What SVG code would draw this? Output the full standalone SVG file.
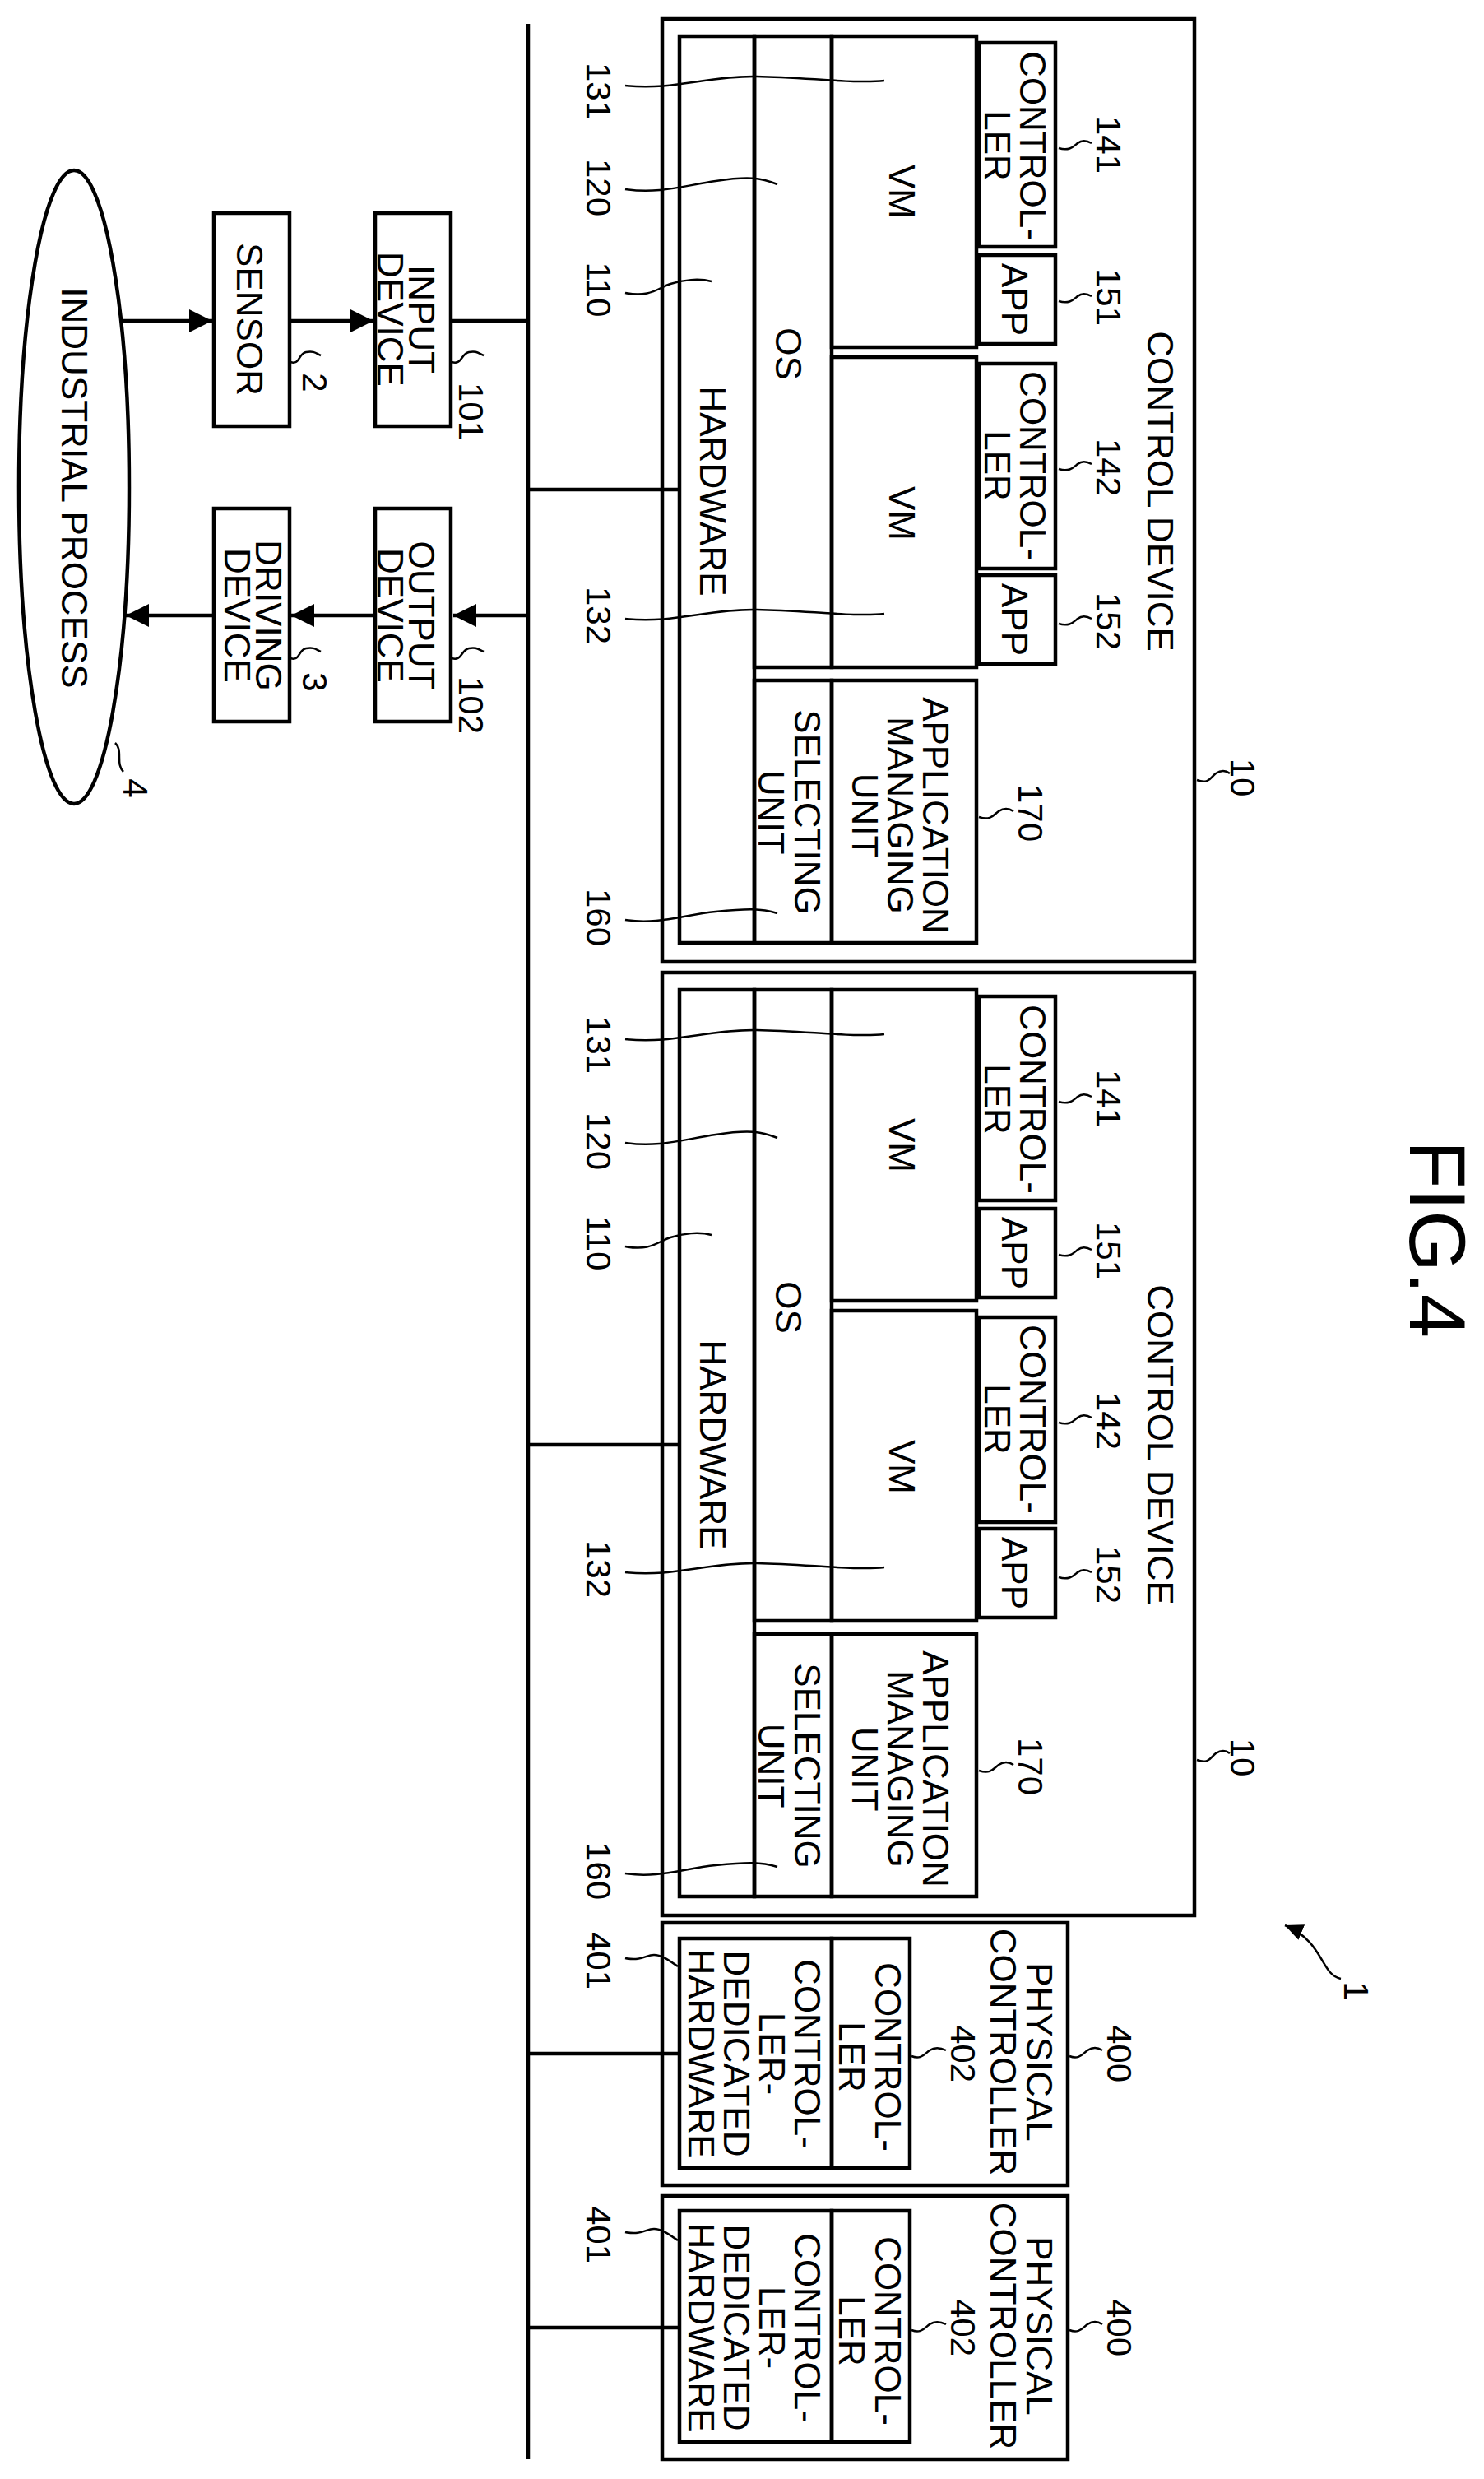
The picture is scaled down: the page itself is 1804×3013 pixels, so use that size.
<svg xmlns="http://www.w3.org/2000/svg" width="1804" height="3013" viewBox="0 0 1804 3013">
<style>
rect,ellipse{fill:none;stroke:#000;stroke-width:4.5}
.c{fill:none;stroke:#000;stroke-width:4.5}
.l{fill:none;stroke:#000;stroke-width:2.5}
text{font-family:"Liberation Sans",Arial,sans-serif;font-size:44px;text-anchor:middle;fill:#000}
.n{font-size:42px}
.f{font-size:96px}
</style>
<defs>
<marker id="ah" markerUnits="userSpaceOnUse" markerWidth="30" markerHeight="30" refX="28" refY="14" orient="auto"><path d="M0,0 L28,14 L0,28 z" fill="#000"/></marker>
<marker id="ah2" markerUnits="userSpaceOnUse" markerWidth="24" markerHeight="24" refX="22" refY="10" orient="auto"><path d="M0,0 L22,10 L0,20 z" fill="#000"/></marker>
</defs>
<g id="connectors">
<path class="c" d="M642,29 V2989"/>
<path class="c" d="M642,595 H826"/>
<path class="c" d="M642,1756 H826"/>
<path class="c" d="M642,2496 H826"/>
<path class="c" d="M642,2829 H826"/>
<path class="c" d="M549,390 H642"/>
<path class="c" d="M147,390 H258" marker-end="url(#ah)"/>
<path class="c" d="M352,390 H454" marker-end="url(#ah)"/>
<path class="c" d="M642,748 H551" marker-end="url(#ah)"/>
<path class="c" d="M456,748 H354" marker-end="url(#ah)"/>
<path class="c" d="M260,748 H153" marker-end="url(#ah)"/>
</g>
<g id="fig"><text class="f" transform="translate(1714,1506) rotate(90)">FIG.4</text></g>
<g id="ref1"><text class="n" transform="translate(1634,2420) rotate(90)">1</text><path class="l" d="M1630,2405 C1605,2400 1610,2360 1562,2340" marker-end="url(#ah2)"/></g>
<g id="process"><ellipse cx="90" cy="592" rx="67" ry="385"/><text transform="translate(75,593) rotate(90)">INDUSTRIAL PROCESS</text><text class="n" transform="translate(150,958) rotate(90)">4</text><path class="l" d="M140,903 C150,912 140,928 150,938"/></g>
<g id="sensor"><rect x="260" y="259" width="92" height="259"/><text transform="translate(288,388) rotate(90)">SENSOR</text><text class="n" transform="translate(368,465) rotate(90)">2</text><path class="l" d="M353,440 C365,444 362,430 372,428 S385,430 390,432"/></g>
<g id="input"><rect x="456" y="259" width="92" height="259"/><text transform="translate(497,388) rotate(90)"><tspan x="0" y="0">INPUT</tspan><tspan x="0" y="38">DEVICE</tspan></text><text class="n" transform="translate(558,500) rotate(90)">101</text><path class="l" d="M549,440 C562,444 560,430 570,428 S582,430 588,432"/></g>
<g id="driving"><rect x="260" y="618" width="92" height="259"/><text transform="translate(311,748) rotate(90)"><tspan x="0" y="0">DRIVING</tspan><tspan x="0" y="38">DEVICE</tspan></text><text class="n" transform="translate(368,829) rotate(90)">3</text><path class="l" d="M353,800 C365,804 362,790 372,788 S385,790 390,792"/></g>
<g id="output"><rect x="456" y="618" width="92" height="259"/><text transform="translate(497,748) rotate(90)"><tspan x="0" y="0">OUTPUT</tspan><tspan x="0" y="38">DEVICE</tspan></text><text class="n" transform="translate(558,857) rotate(90)">102</text><path class="l" d="M549,800 C562,804 560,790 570,788 S582,790 588,792"/></g>
<g id="cd1">
<rect x="805" y="23" width="647" height="1146"/>
<text transform="translate(1395,597) rotate(90)">CONTROL DEVICE</text>
<text class="n" transform="translate(1496,945) rotate(90)">10</text><path class="l" d="M1455,948 C1470,954 1472,944 1478,940 S1490,936 1495,940"/>
<g id="cd1-hw"><rect x="826" y="44" width="91" height="1102"/><text transform="translate(851,597) rotate(90)">HARDWARE</text><text class="n" transform="translate(713,352) rotate(90)">110</text><path class="l" d="M760,356 C790,362 800,350 815,345 S850,338 865,342"/></g>
<g id="cd1-os"><rect x="917" y="44" width="94" height="767"/><text transform="translate(943,430) rotate(90)">OS</text><text class="n" transform="translate(713,228) rotate(90)">120</text><path class="l" d="M760,230 C800,236 830,226 870,220 S925,216 945,224"/></g>
<g id="cd1-vm1"><rect x="1011" y="44" width="176" height="378"/><text transform="translate(1081,233) rotate(90)">VM</text><text class="n" transform="translate(713,111) rotate(90)">131</text><path class="l" d="M760,104 C820,110 860,92 920,93 S1040,102 1075,98"/></g>
<g id="cd1-vm2"><rect x="1011" y="434" width="176" height="377"/><text transform="translate(1081,624) rotate(90)">VM</text><text class="n" transform="translate(713,748) rotate(90)">132</text><path class="l" d="M760,752 C820,758 860,740 920,741 S1040,750 1075,746"/></g>
<g id="cd1-c141"><rect x="1190" y="52" width="93" height="248"/><text transform="translate(1240,177) rotate(90)"><tspan x="0" y="0">CONTROL-</tspan><tspan x="0" y="43">LER</tspan></text><text class="n" transform="translate(1333,176) rotate(90)">141</text><path class="l" d="M1287,180 C1300,184 1305,178 1310,174 S1320,170 1327,174"/></g>
<g id="cd1-a151"><rect x="1190" y="310" width="93" height="108"/><text transform="translate(1218,364) rotate(90)">APP</text><text class="n" transform="translate(1333,361) rotate(90)">151</text><path class="l" d="M1287,366 C1300,370 1305,364 1310,360 S1320,356 1327,360"/></g>
<g id="cd1-c142"><rect x="1190" y="442" width="93" height="249"/><text transform="translate(1240,566) rotate(90)"><tspan x="0" y="0">CONTROL-</tspan><tspan x="0" y="43">LER</tspan></text><text class="n" transform="translate(1333,568) rotate(90)">142</text><path class="l" d="M1287,570 C1300,574 1305,568 1310,564 S1320,560 1327,564"/></g>
<g id="cd1-a152"><rect x="1190" y="699" width="93" height="108"/><text transform="translate(1218,753) rotate(90)">APP</text><text class="n" transform="translate(1333,755) rotate(90)">152</text><path class="l" d="M1287,758 C1300,762 1305,756 1310,752 S1320,748 1327,752"/></g>
<g id="cd1-sel"><rect x="917" y="827" width="94" height="319"/><text transform="translate(966,987) rotate(90)"><tspan x="0" y="0">SELECTING</tspan><tspan x="0" y="44">UNIT</tspan></text><text class="n" transform="translate(713,1115) rotate(90)">160</text><path class="l" d="M760,1118 C800,1124 830,1112 870,1108 S925,1104 945,1110"/></g>
<g id="cd1-app"><rect x="1011" y="827" width="176" height="319"/><text transform="translate(1122,991) rotate(90)"><tspan x="0" y="0">APPLICATION</tspan><tspan x="0" y="43">MANAGING</tspan><tspan x="0" y="86">UNIT</tspan></text><text class="n" transform="translate(1238,988) rotate(90)">170</text><path class="l" d="M1190,993 C1205,998 1208,990 1214,986 S1226,982 1232,986"/></g>
</g>
<g id="cd2" transform="translate(0,1159)">
<rect x="805" y="23" width="647" height="1146"/>
<text transform="translate(1395,597) rotate(90)">CONTROL DEVICE</text>
<text class="n" transform="translate(1496,977) rotate(90)">10</text><path class="l" d="M1455,980 C1470,986 1472,976 1478,972 S1490,968 1495,972"/>
<g id="cd2-hw"><rect x="826" y="44" width="91" height="1102"/><text transform="translate(851,597) rotate(90)">HARDWARE</text><text class="n" transform="translate(713,352) rotate(90)">110</text><path class="l" d="M760,356 C790,362 800,350 815,345 S850,338 865,342"/></g>
<g id="cd2-os"><rect x="917" y="44" width="94" height="767"/><text transform="translate(943,430) rotate(90)">OS</text><text class="n" transform="translate(713,228) rotate(90)">120</text><path class="l" d="M760,230 C800,236 830,226 870,220 S925,216 945,224"/></g>
<g id="cd2-vm1"><rect x="1011" y="44" width="176" height="378"/><text transform="translate(1081,233) rotate(90)">VM</text><text class="n" transform="translate(713,111) rotate(90)">131</text><path class="l" d="M760,104 C820,110 860,92 920,93 S1040,102 1075,98"/></g>
<g id="cd2-vm2"><rect x="1011" y="434" width="176" height="377"/><text transform="translate(1081,624) rotate(90)">VM</text><text class="n" transform="translate(713,748) rotate(90)">132</text><path class="l" d="M760,752 C820,758 860,740 920,741 S1040,750 1075,746"/></g>
<g id="cd2-c141"><rect x="1190" y="52" width="93" height="248"/><text transform="translate(1240,177) rotate(90)"><tspan x="0" y="0">CONTROL-</tspan><tspan x="0" y="43">LER</tspan></text><text class="n" transform="translate(1333,176) rotate(90)">141</text><path class="l" d="M1287,180 C1300,184 1305,178 1310,174 S1320,170 1327,174"/></g>
<g id="cd2-a151"><rect x="1190" y="310" width="93" height="108"/><text transform="translate(1218,364) rotate(90)">APP</text><text class="n" transform="translate(1333,361) rotate(90)">151</text><path class="l" d="M1287,366 C1300,370 1305,364 1310,360 S1320,356 1327,360"/></g>
<g id="cd2-c142"><rect x="1190" y="442" width="93" height="249"/><text transform="translate(1240,566) rotate(90)"><tspan x="0" y="0">CONTROL-</tspan><tspan x="0" y="43">LER</tspan></text><text class="n" transform="translate(1333,568) rotate(90)">142</text><path class="l" d="M1287,570 C1300,574 1305,568 1310,564 S1320,560 1327,564"/></g>
<g id="cd2-a152"><rect x="1190" y="699" width="93" height="108"/><text transform="translate(1218,753) rotate(90)">APP</text><text class="n" transform="translate(1333,755) rotate(90)">152</text><path class="l" d="M1287,758 C1300,762 1305,756 1310,752 S1320,748 1327,752"/></g>
<g id="cd2-sel"><rect x="917" y="827" width="94" height="319"/><text transform="translate(966,987) rotate(90)"><tspan x="0" y="0">SELECTING</tspan><tspan x="0" y="44">UNIT</tspan></text><text class="n" transform="translate(713,1115) rotate(90)">160</text><path class="l" d="M760,1118 C800,1124 830,1112 870,1108 S925,1104 945,1110"/></g>
<g id="cd2-app"><rect x="1011" y="827" width="176" height="319"/><text transform="translate(1122,991) rotate(90)"><tspan x="0" y="0">APPLICATION</tspan><tspan x="0" y="43">MANAGING</tspan><tspan x="0" y="86">UNIT</tspan></text><text class="n" transform="translate(1238,988) rotate(90)">170</text><path class="l" d="M1190,993 C1205,998 1208,990 1214,986 S1226,982 1232,986"/></g>
</g>
<g id="pc1">
<rect x="805" y="2337" width="493" height="319"/>
<text transform="translate(1248,2494) rotate(90)"><tspan x="0" y="0">PHYSICAL</tspan><tspan x="0" y="44">CONTROLLER</tspan></text>
<text class="n" transform="translate(1346,2496) rotate(90)">400</text><path class="l" d="M1300,2499 C1312,2504 1316,2496 1322,2492 S1334,2488 1340,2492"/>
<g id="pc1-ctrl"><rect x="1011" y="2356" width="95" height="279"/><text transform="translate(1064,2500) rotate(90)"><tspan x="0" y="0">CONTROL-</tspan><tspan x="0" y="44">LER</tspan></text><text class="n" transform="translate(1156,2496) rotate(90)">402</text><path class="l" d="M1108,2499 C1120,2504 1124,2496 1130,2492 S1142,2488 1150,2492"/></g>
<g id="pc1-hw"><rect x="826" y="2356" width="185" height="279"/><text transform="translate(966,2496) rotate(90)"><tspan x="0" y="0">CONTROL-</tspan><tspan x="0" y="43">LER-</tspan><tspan x="0" y="86">DEDICATED</tspan><tspan x="0" y="129">HARDWARE</tspan></text><text class="n" transform="translate(713,2383) rotate(90)">401</text><path class="l" d="M760,2380 C780,2384 785,2376 795,2376 S815,2384 824,2390"/></g>
</g>
<g id="pc2">
<rect x="805" y="2669" width="493" height="320"/>
<text transform="translate(1248,2827) rotate(90)"><tspan x="0" y="0">PHYSICAL</tspan><tspan x="0" y="44">CONTROLLER</tspan></text>
<text class="n" transform="translate(1346,2829) rotate(90)">400</text><path class="l" d="M1300,2832 C1312,2837 1316,2829 1322,2825 S1334,2821 1340,2825"/>
<g id="pc2-ctrl"><rect x="1011" y="2687" width="95" height="281"/><text transform="translate(1064,2833) rotate(90)"><tspan x="0" y="0">CONTROL-</tspan><tspan x="0" y="44">LER</tspan></text><text class="n" transform="translate(1156,2829) rotate(90)">402</text><path class="l" d="M1108,2832 C1120,2837 1124,2829 1130,2825 S1142,2821 1150,2825"/></g>
<g id="pc2-hw"><rect x="826" y="2687" width="185" height="281"/><text transform="translate(966,2829) rotate(90)"><tspan x="0" y="0">CONTROL-</tspan><tspan x="0" y="43">LER-</tspan><tspan x="0" y="86">DEDICATED</tspan><tspan x="0" y="129">HARDWARE</tspan></text><text class="n" transform="translate(713,2716) rotate(90)">401</text><path class="l" d="M760,2713 C780,2717 785,2709 795,2709 S815,2717 824,2723"/></g>
</g>
</svg>
